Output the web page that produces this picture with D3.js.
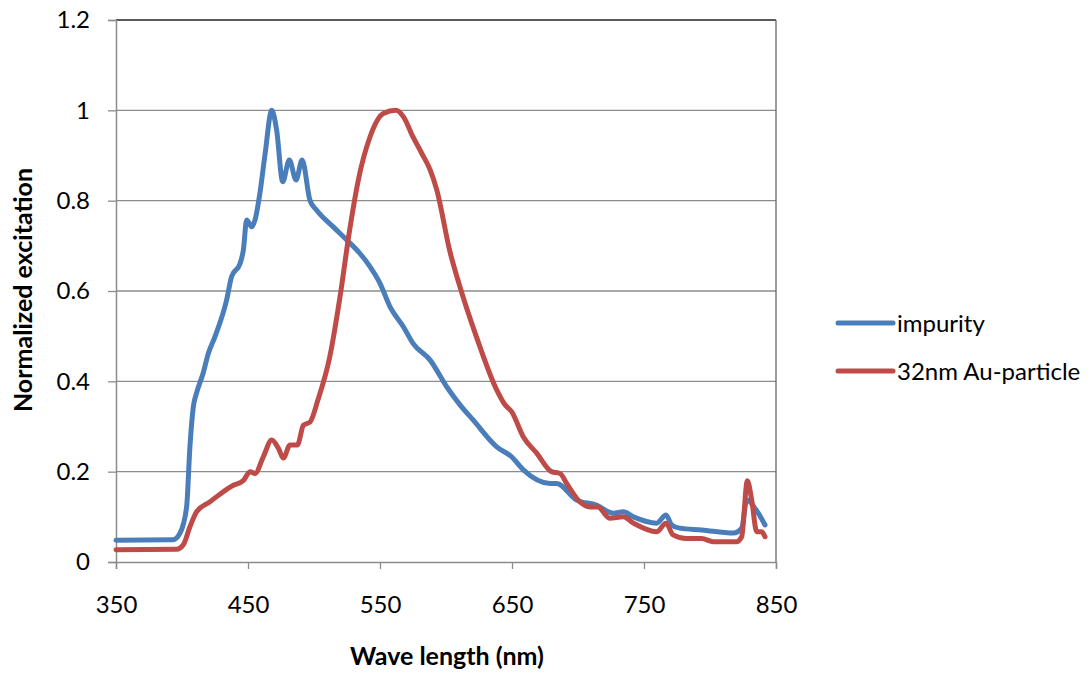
<!DOCTYPE html>
<html>
<head>
<meta charset="utf-8">
<script src="https://cdn.jsdelivr.net/npm/d3@7"></script>
<style>
  body { margin: 0; background: #fff; }
  text { font-family: Lato, "Open Sans", sans-serif; fill: #000; }
</style>
</head>
<body>
<div id="chart"></div>
<script>
// Series data
const impurityNm = [350, 393, 398.5, 403.5, 406, 408.6, 411, 416, 420, 425, 433.8, 437.6, 444, 446.5, 449, 452.8, 455.3, 459, 463, 468, 471.7, 476.3, 481.3, 486.4, 491, 497, 502, 514.6, 524.8, 534.8, 542.4, 550, 557.6, 567.7, 575, 588, 600.5, 610.6, 620.7, 638.4, 649.7, 658.6, 678.8, 683.8, 699, 714, 726.8, 734.3, 742, 759.6, 766.7, 771, 777, 793.7, 817.7, 824, 827.8, 835, 841.7];
const impurityVal = [0.048, 0.049, 0.064, 0.122, 0.255, 0.344, 0.374, 0.418, 0.462, 0.499, 0.58, 0.632, 0.661, 0.691, 0.757, 0.742, 0.757, 0.816, 0.905, 1.0, 0.956, 0.842, 0.89, 0.846, 0.89, 0.80, 0.779, 0.742, 0.713, 0.683, 0.654, 0.617, 0.565, 0.521, 0.484, 0.447, 0.388, 0.348, 0.314, 0.255, 0.233, 0.204, 0.174, 0.174, 0.137, 0.126, 0.108, 0.111, 0.10, 0.086, 0.104, 0.082, 0.075, 0.071, 0.064, 0.075, 0.137, 0.115, 0.082];

const auNm = [350, 396, 401, 406, 411, 421, 438.9, 446.4, 451.5, 455.3, 461.6, 468, 473, 476.8, 481.8, 487.4, 492, 497, 503, 512, 519.7, 527, 533.6, 542.4, 552.5, 562, 567.7, 575, 581.6, 588, 593, 603, 610.6, 623, 638.4, 644.7, 649.7, 658.6, 668.7, 680, 686.4, 691.4, 701.5, 709, 715, 724, 734.3, 742, 759.6, 766.7, 772, 782, 793.7, 802.5, 820, 824, 828.3, 831.6, 835.4, 839, 841.7];
const auVal = [0.027, 0.028, 0.038, 0.078, 0.111, 0.133, 0.17, 0.18, 0.20, 0.196, 0.233, 0.27, 0.252, 0.23, 0.259, 0.259, 0.303, 0.31, 0.359, 0.455, 0.587, 0.735, 0.846, 0.941, 0.993, 1.0, 0.986, 0.941, 0.905, 0.868, 0.824, 0.687, 0.609, 0.499, 0.381, 0.348, 0.333, 0.277, 0.241, 0.20, 0.196, 0.174, 0.133, 0.122, 0.122, 0.097, 0.10, 0.086, 0.067, 0.086, 0.06, 0.052, 0.052, 0.045, 0.045, 0.056, 0.18, 0.137, 0.067, 0.067, 0.056];

const seriesNames = ['impurity', '32nm Au-particle'];
const seriesColors = ['#4a7ebb', '#be4b48'];
const xTicks = [350, 450, 550, 650, 750, 850];
const yTicks = [0, 0.2, 0.4, 0.6, 0.8, 1, 1.2];

const W = 1091, H = 675;
const margin = { top: 20, left: 116, right: 315, bottom: 113 };
const width = W - margin.left - margin.right;
const height = H - margin.top - margin.bottom;

const svg = d3.select('#chart').append('svg')
  .attr('width', W)
  .attr('height', H);

const g = svg.append('g')
  .attr('transform', `translate(${margin.left},${margin.top})`);

const x = d3.scaleLinear().domain([350, 850]).range([0, width]);
const y = d3.scaleLinear().domain([0, 1.2]).range([height, 0]);

// gridlines
g.selectAll('.grid')
  .data(yTicks.slice(1))
  .enter().append('line')
  .attr('x1', 0).attr('x2', width)
  .attr('y1', d => y(d)).attr('y2', d => y(d))
  .attr('stroke', d => d === 1.2 ? '#222' : '#8c8c8c')
  .attr('stroke-width', 1.3);

// right border
g.append('line')
  .attr('x1', width).attr('x2', width)
  .attr('y1', 0).attr('y2', height)
  .attr('stroke', '#666').attr('stroke-width', 1.3);

// axes
const xAxis = g.append('g')
  .attr('transform', `translate(0,${height})`)
  .call(d3.axisBottom(x).tickValues(xTicks).tickSize(7).tickPadding(27).tickFormat(d3.format('d')));
const yAxis = g.append('g')
  .call(d3.axisLeft(y).tickValues(yTicks).tickSize(8).tickPadding(18).tickFormat(d => d === 0 ? '0' : d3.format('')(d)));

[xAxis, yAxis].forEach(a => {
  a.select('.domain').attr('stroke', '#8c8c8c').attr('stroke-width', 1.5);
  a.selectAll('.tick line').attr('stroke', '#8c8c8c').attr('stroke-width', 1.3);
  a.selectAll('.tick text').style('font-size', '24px').style('font-family', 'Lato, sans-serif').attr('fill', '#000');
});

// lines
const line = d3.line()
  .x(d => x(d[0]))
  .y(d => y(d[1]))
  .curve(d3.curveMonotoneX);

const series = [
  d3.zip(impurityNm, impurityVal),
  d3.zip(auNm, auVal)
];

series.forEach((s, i) => {
  g.append('path')
    .datum(s)
    .attr('d', line)
    .attr('fill', 'none')
    .attr('stroke', seriesColors[i])
    .attr('stroke-width', 5)
    .attr('stroke-linejoin', 'round')
    .attr('stroke-linecap', 'round');
});

// axis titles
svg.append('text')
  .attr('x', 447).attr('y', 665)
  .attr('text-anchor', 'middle')
  .style('font-size', '25px').style('font-weight', 'bold')
  .text('Wave length (nm)');

svg.append('text')
  .attr('transform', 'translate(32,290) rotate(-90)')
  .attr('text-anchor', 'middle')
  .style('font-size', '25px').style('font-weight', 'bold')
  .text('Normalized excitation');

// legend
const legend = svg.append('g').attr('transform', 'translate(838,323)');
seriesNames.forEach((name, i) => {
  const row = legend.append('g').attr('transform', `translate(0,${i * 48})`);
  row.append('line')
    .attr('x1', 0).attr('x2', 55)
    .attr('stroke', seriesColors[i])
    .attr('stroke-width', 5)
    .attr('stroke-linecap', 'round');
  row.append('text')
    .attr('x', 59).attr('y', 8.5)
    .style('font-size', '24px')
    .text(name);
});
</script>
</body>
</html>
